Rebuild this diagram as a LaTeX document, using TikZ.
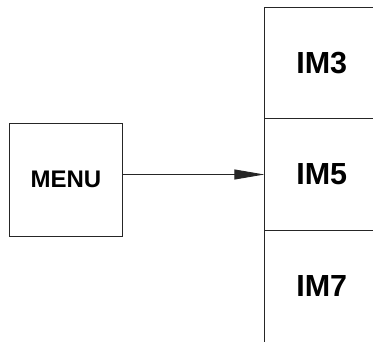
\documentclass[tikz,border=0pt]{standalone}
\usepackage{fontspec}
\setmainfont{Liberation Sans}
\usetikzlibrary{arrows.meta}
\begin{document}
\begin{tikzpicture}[x=1pt,y=-1pt,
  ln/.style={line width=0.9pt,draw=black!85},
  boxnode/.style={ln,draw,minimum width=113pt,minimum height=113.5pt,inner sep=0pt,font=\bfseries\fontsize{24}{28}\selectfont},
  cell/.style={draw=none,minimum width=114.5pt,inner sep=0pt,font=\bfseries\fontsize{30.5}{34}\selectfont},
  arr/.style={ln,-{Triangle[length=30pt,width=10pt]}}]
\useasboundingbox (0,0) rectangle (373,342);
\node[boxnode] (menu) at (66,179.75) {MENU};
\node[cell,minimum height=111pt] (im3) at (321.75,63) {IM3};
\node[cell,minimum height=112pt] (im5) at (321.75,174.5) {IM5};
\node[cell,minimum height=111.5pt] (im7) at (321.75,286.25) {IM7};
\draw[ln] (im3.north east) -- (im3.north west) -- (im7.south west);
\draw[ln] (im5.north west) -- (im5.north east);
\draw[ln] (im7.north west) -- (im7.north east);
\draw[arr] (menu.east |- im5) -- (im5.west);
\end{tikzpicture}
\end{document}
